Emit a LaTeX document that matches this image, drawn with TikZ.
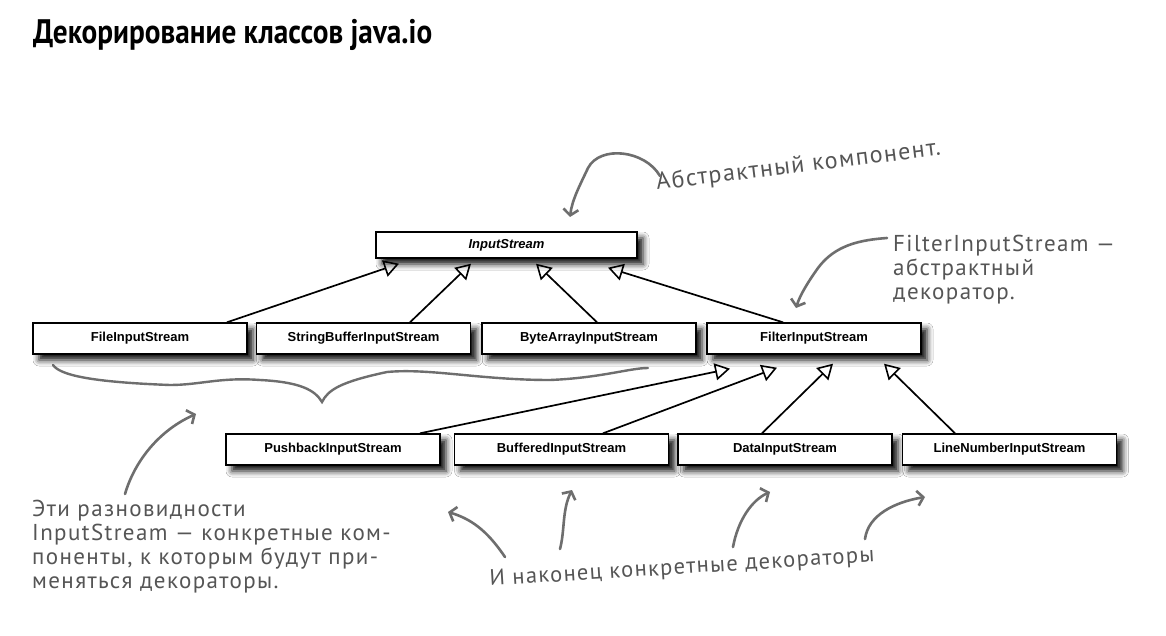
\documentclass[tikz,border=0pt]{standalone}
\usepackage{fontspec}
\usepackage{graphicx}
\usetikzlibrary{arrows.meta,shadows.blur,calc}
\newfontfamily\boxfont{Liberation Sans}
\newfontfamily\handfont[LetterSpace=6]{PT Sans}
\newfontfamily\titlefont{PT Sans}
\definecolor{handgray}{RGB}{110,110,110}
\definecolor{textgray}{RGB}{85,85,85}
\begin{document}
\begin{tikzpicture}[x=1pt,y=-1pt,
 cls/.style={draw=black, line width=1.4pt, fill=white, minimum width=214pt, minimum height=31pt, inner sep=0pt,
   font=\boxfont\bfseries\fontsize{13}{15}\selectfont,
   blur shadow={shadow xshift=6pt, shadow yshift=-6pt, shadow blur radius=6pt, shadow opacity=95}},
 inh/.style={line width=1.7pt, -{Triangle[open, length=15pt, width=17pt, line width=1.6pt]}},
 hand/.style={draw=handgray, line width=2.6pt, line cap=round, -{Straight Barb[length=6pt, width=15pt, line width=2.6pt]}},
 note/.style={text=textgray, font=\handfont\fontsize{23}{24}\selectfont, inner sep=0pt, align=left}
]
\useasboundingbox (0,0) rectangle (1166,636);
\fill[white] (0,0) rectangle (1166,636);

\node[anchor=base west, inner sep=0pt, xscale=0.86, font=\titlefont\bfseries\fontsize{34}{38}\selectfont] (title) at (33,44) {Декорирование классов java.io};

\node[cls, minimum width=261pt, minimum height=26pt, font=\boxfont\bfseries\itshape\fontsize{13}{15}\selectfont] (input) at (506.5,245) {InputStream};
\node[cls] (file) at (140,338.5) {FileInputStream};
\node[cls] (sbuf) at (363.5,338.5) {StringBufferInputStream};
\node[cls] (barr) at (589,338.5) {ByteArrayInputStream};
\node[cls] (filt) at (814,338.5) {FilterInputStream};
\node[cls] (push) at (333,449.5) {PushbackInputStream};
\node[cls] (buff) at (561.5,449.5) {BufferedInputStream};
\node[cls] (data) at (785,449.5) {DataInputStream};
\node[cls] (line) at (1009.5,449.5) {LineNumberInputStream};

\draw[inh] ($(file.north)+(87,0)$) -- ($(input.south)+(-107.5,5)$);
\draw[inh] ($(sbuf.north)+(46.5,0)$) -- ($(input.south)+(-35.5,5)$);
\draw[inh] ($(barr.north)+(8,0)$) -- ($(input.south)+(29.5,5)$);
\draw[inh] ($(filt.north)+(-31,0)$) -- ($(input.south)+(101.5,9)$);
\draw[inh] ($(push.north)+(87,0)$) -- ($(filt.south)+(-84,14)$);
\draw[inh] ($(buff.north)+(41.5,0)$) -- ($(filt.south)+(-37,13)$);
\draw[inh] ($(data.north)+(-23,0)$) -- ($(filt.south)+(19,9)$);
\draw[inh] ($(line.north)+(-54.5,0)$) -- ($(filt.south)+(70,9)$);

% annotations
\node[note, anchor=base west, rotate=7, font=\handfont\fontsize{24}{24}\selectfont] (abs) at (657,190) {Абстрактный компонент.};
\node[note, anchor=base west] (flt) at (893,299) {FilterInputStream —\\абстрактный\\декоратор.};
\node[note, anchor=base west] (eti) at (32,588) {Эти разновидности\\InputStream — конкретные ком-\\поненты, к которым будут при-\\меняться декораторы.};
\node[note, anchor=base west, rotate=3.6, font=\handfont\fontsize{22.5}{24}\selectfont] (fin) at (490,586) {И наконец конкретные декораторы};

\coordinate (a1s) at (660,176); \coordinate (a1e) at (570,217);
\draw[hand] (a1s) .. controls (645,150) and (600,145) .. (588,168) .. controls (580,185) and (572,200) .. (a1e);
\coordinate (a2s) at (887,238); \coordinate (a2e) at (796,308);
\draw[hand] (a2s) .. controls (860,240) and (835,245) .. (818,268) .. controls (808,282) and (800,295) .. (a2e);
\coordinate (br1) at (53,365); \coordinate (br2) at (648,368);
\draw[handgray, line width=2.4pt, line cap=round] (br1) .. controls (60,375) and (90,382) .. (170,385) .. controls (200,385) and (220,377) .. (260,380) .. controls (300,382) and (315,390) .. (322,402) .. controls (328,390) and (340,382) .. (387,372) .. controls (430,368) and (480,380) .. (550,380) .. controls (600,378) and (630,368) .. (br2);
\coordinate (a3s) at (125,494); \coordinate (a3e) at (196,414);
\draw[hand] (a3s) .. controls (135,460) and (160,430) .. (a3e);
\coordinate (a4s) at (505,557); \coordinate (a4e) at (448,512);
\draw[hand] (a4s) .. controls (490,535) and (475,520) .. (a4e);
\coordinate (a5s) at (560,549); \coordinate (a5e) at (572,490);
\draw[hand] (a5s) .. controls (565,530) and (562,510) .. (a5e);
\coordinate (a6s) at (733,547); \coordinate (a6e) at (770,492);
\draw[hand] (a6s) .. controls (738,520) and (752,500) .. (a6e);
\coordinate (a7s) at (865,539); \coordinate (a7e) at (925,497);
\draw[hand] (a7s) .. controls (868,515) and (895,502) .. (a7e);
\end{tikzpicture}
\end{document}
